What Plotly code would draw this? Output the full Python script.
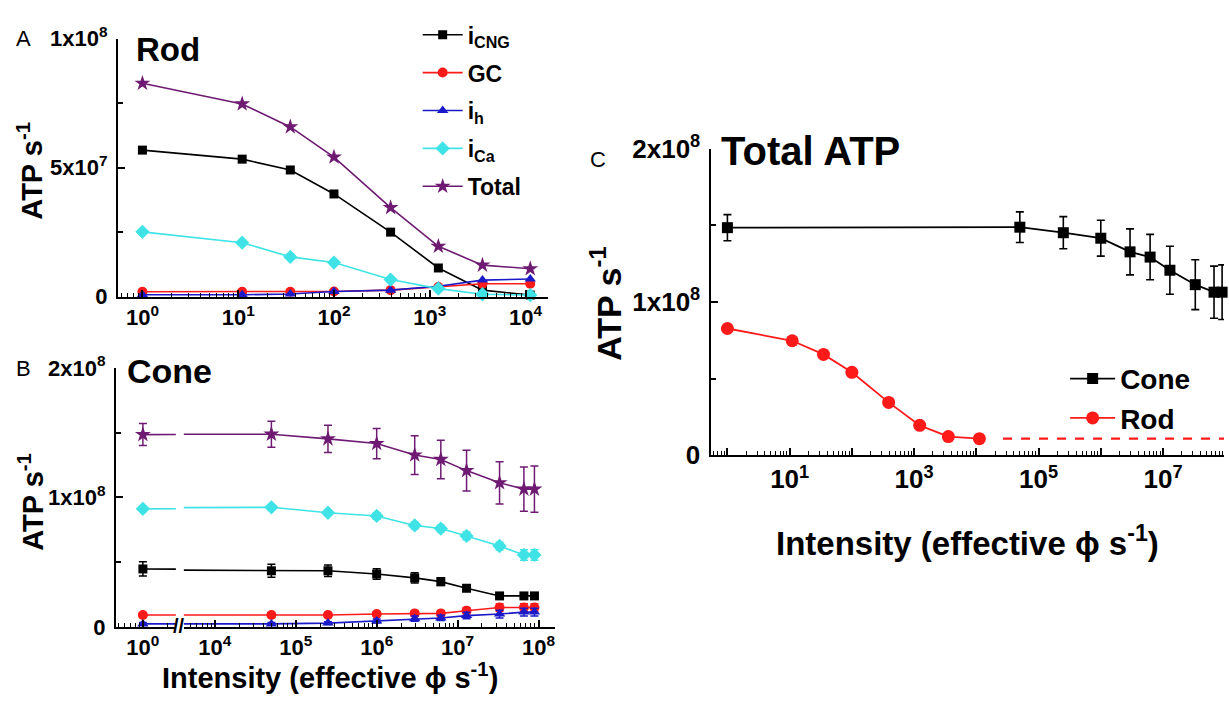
import plotly.graph_objects as go

W, H = 1229, 719
FONT = "Liberation Sans"

# ---------------- data ----------------
# Rod photoreceptor: ATP consumption (ATP s^-1) vs intensity (effective photons s^-1)
rod_intensity = [1, 11, 35, 100, 390, 1230, 3550, 11200]
rod_icng = [5.68e7, 5.33e7, 4.91e7, 3.98e7, 2.50e7, 1.11e7, 2.5e6, 6e5]
rod_gc = [1.9e6, 1.9e6, 1.9e6, 2.0e6, 2.5e6, 3.7e6, 5.0e6, 5.0e6]
rod_ih = [7e5, 7e5, 1.0e6, 2.0e6, 2.5e6, 4.0e6, 6.4e6, 6.8e6]
rod_ica = [2.51e7, 2.09e7, 1.54e7, 1.32e7, 6.6e6, 3.1e6, 9e5, 6e5]
rod_total = [8.27e7, 7.47e7, 6.58e7, 5.41e7, 3.45e7, 1.95e7, 1.22e7, 1.08e7]

# Cone photoreceptor
cone_intensity = [1, 5.0e4, 2.5e5, 1.0e6, 2.95e6, 6.2e6, 1.29e7, 3.3e7, 6.6e7, 8.9e7]
cone_icng = [4.48e7, 4.34e7, 4.34e7, 4.09e7, 3.79e7, 3.50e7, 2.99e7, 2.40e7, 2.40e7, 2.40e7]
cone_icng_err = [5.5e6, 5.0e6, 4.5e6, 4.0e6, 4.0e6, 3.0e6, 2.0e6, 1.5e6, 1.5e6, 1.5e6]
cone_gc = [9.3e6, 9.3e6, 9.3e6, 1.0e7, 1.05e7, 1.05e7, 1.25e7, 1.5e7, 1.5e7, 1.5e7]
cone_gc_err = [1.5e6, 1.5e6, 1.5e6, 1.5e6, 2.0e6, 2.0e6, 2.5e6, 3.0e6, 3.0e6, 3.0e6]
cone_ih = [2.4e6, 2.4e6, 3.0e6, 4.6e6, 6.4e6, 7.0e6, 8.8e6, 1.0e7, 1.15e7, 1.15e7]
cone_ih_err = [1.0e6, 1.0e6, 1.0e6, 1.5e6, 2.0e6, 2.0e6, 2.5e6, 3.0e6, 3.0e6, 3.0e6]
cone_ica = [9.12e7, 9.24e7, 8.82e7, 8.57e7, 7.84e7, 7.60e7, 7.03e7, 6.25e7, 5.56e7, 5.56e7]
cone_ica_err = [2.0e6, 2.0e6, 2.0e6, 2.5e6, 2.5e6, 2.5e6, 3.0e6, 3.0e6, 4.0e6, 4.0e6]
cone_total = [1.485e8, 1.488e8, 1.452e8, 1.416e8, 1.327e8, 1.293e8, 1.207e8, 1.113e8, 1.064e8, 1.064e8]
cone_total_err = [8.5e6, 1.0e7, 1.05e7, 1.17e7, 1.5e7, 1.48e7, 1.57e7, 1.63e7, 1.7e7, 1.78e7]

series_names = ["i<sub>CNG</sub>", "GC", "i<sub>h</sub>", "i<sub>Ca</sub>", "Total"]
series_colors = ["#000000", "#ff1a1a", "#1a1ac8", "#3fe3e6", "#6e1a72"]
series_symbols = ["square", "circle", "triangle-up", "diamond", "star"]
series_sizes = [9, 10, 10, 11, 12]

rod_series = [rod_icng, rod_gc, rod_ih, rod_ica, rod_total]
cone_series = [cone_icng, cone_gc, cone_ih, cone_ica, cone_total]
cone_errors = [cone_icng_err, cone_gc_err, cone_ih_err, cone_ica_err, cone_total_err]


def px_x(p):
    return p / W


def px_y(p):
    return 1 - p / H


def sup_label(n):
    return f"10<sup>{n}</sup>"


def minor_vals(lo, hi):
    return [k * 10 ** n for n in range(lo, hi + 1) for k in range(2, 10)]


fig = go.Figure()

# ---------------- panel A: rod ----------------
for name, color, sym, size, ys in zip(series_names, series_colors, series_symbols,
                                      series_sizes, rod_series):
    fig.add_trace(go.Scatter(
        x=rod_intensity, y=ys, name=name, mode="lines+markers",
        line=dict(color=color, width=1.6),
        marker=dict(symbol=sym, size=size, color=color),
        cliponaxis=False, xaxis="x", yaxis="y", legend="legend", legendgroup=name,
    ))

# ---------------- panel B: cone (broken intensity axis) ----------------
for name, color, sym, size, ys, err in zip(series_names, series_colors, series_symbols,
                                           series_sizes, cone_series, cone_errors):
    for xa in ("x2", "x3"):
        fig.add_trace(go.Scatter(
            x=cone_intensity, y=ys, mode="lines", showlegend=False,
            line=dict(color=color, width=1.6), xaxis=xa, yaxis="y2",
        ))
    # points on the left segment (below the break) and right segment
    fig.add_trace(go.Scatter(
        x=cone_intensity[:1], y=ys[:1], mode="markers", showlegend=False,
        marker=dict(symbol=sym, size=size, color=color),
        error_y=dict(type="data", array=err[:1], color=color, thickness=1.5, width=4),
        cliponaxis=False, xaxis="x2", yaxis="y2",
    ))
    fig.add_trace(go.Scatter(
        x=cone_intensity[1:], y=ys[1:], mode="markers", showlegend=False,
        marker=dict(symbol=sym, size=size, color=color),
        error_y=dict(type="data", array=err[1:], color=color, thickness=1.5, width=4),
        cliponaxis=False, xaxis="x3", yaxis="y2",
    ))

# ---------------- panel C: total ATP ----------------
fig.add_trace(go.Scatter(
    x=cone_intensity, y=cone_total, name="Cone", mode="lines+markers",
    line=dict(color="#000000", width=1.8),
    marker=dict(symbol="square", size=11, color="#000000"),
    error_y=dict(type="data", array=cone_total_err, color="#000000", thickness=1.6, width=4),
    cliponaxis=False, xaxis="x4", yaxis="y3", legend="legend2",
))
fig.add_trace(go.Scatter(
    x=rod_intensity, y=rod_total, name="Rod", mode="lines+markers",
    line=dict(color="#ff1a1a", width=1.8),
    marker=dict(symbol="circle", size=13, color="#ff1a1a"),
    cliponaxis=False, xaxis="x4", yaxis="y3", legend="legend2",
))
# rod consumption held at its saturated level over the cone range
fig.add_trace(go.Scatter(
    x=[rod_intensity[-1] * 2.4, cone_intensity[-1] * 2.0],
    y=[rod_total[-1], rod_total[-1]], mode="lines", showlegend=False,
    line=dict(color="#ff1a1a", width=2.2, dash="dash"),
    xaxis="x4", yaxis="y3",
))

# ---------------- axes ----------------
def x_axis(size, **kw):
    return dict(type="log", showline=True, linewidth=2, linecolor="#000000",
                ticks="inside", ticklen=7, tickwidth=2, tickcolor="#000000",
                showgrid=False, zeroline=False, tickmode="array",
                tickfont=dict(family=FONT, size=size, color="#000000", weight="bold"),
                **kw)


def y_axis(size, **kw):
    return dict(showline=True, linewidth=2, linecolor="#000000",
                ticks="inside", ticklen=7, tickwidth=2, tickcolor="#000000",
                showgrid=False, zeroline=False, tickmode="array", ticklabelstandoff=4,
                tickfont=dict(family=FONT, size=size, color="#000000", weight="bold"),
                **kw)


def minor_x(lo, hi):
    return dict(ticks="inside", ticklen=4, tickwidth=1.2, tickcolor="#000000",
                tickmode="array", tickvals=minor_vals(lo, hi), showgrid=False)


def minor_y(vals):
    return dict(ticks="inside", ticklen=5, tickwidth=1.5, tickcolor="#000000",
                tickmode="array", tickvals=vals, showgrid=False)


y_labels_rod = [0, 5e7, 1e8]
y_text_rod = ["0", "5x10<sup>7</sup>", "1x10<sup>8</sup>"]
y_labels_cone = [0, 1e8, 2e8]
y_text_cone = ["0", "1x10<sup>8</sup>", "2x10<sup>8</sup>"]

fig.update_layout(
    xaxis=x_axis(22, domain=[px_x(118), px_x(548)], range=[-0.256, 4.23], anchor="y",
                 tickvals=[10 ** n for n in range(0, 5)],
                 ticktext=[sup_label(n) for n in range(0, 5)], minor=minor_x(-1, 4)),
    yaxis=y_axis(22, domain=[px_y(292), px_y(21.7)], range=[0, 1e8], anchor="x",
                 tickvals=y_labels_rod, ticktext=y_text_rod, minor=minor_y([2.5e7, 7.5e7])),
    xaxis2=x_axis(22, domain=[px_x(116), px_x(176)], range=[-0.333, 0.407], anchor="y2",
                  tickvals=[1], ticktext=[sup_label(0)], minor=minor_x(-1, 0)),
    xaxis3=x_axis(22, domain=[px_x(184), px_x(555)], range=[3.617, 8.198], anchor="y2",
                  tickvals=[10 ** n for n in range(4, 9)],
                  ticktext=[sup_label(n) for n in range(4, 9)], minor=minor_x(3, 8)),
    yaxis2=y_axis(22, domain=[px_y(638.3), px_y(366.7)], range=[0, 2e8], anchor="x2",
                  tickvals=y_labels_cone, ticktext=y_text_cone, minor=minor_y([5e7, 1.5e8])),
    xaxis4=x_axis(26, domain=[px_x(712), px_x(1225)], range=[-0.257, 7.98], anchor="y3",
                  tickvals=[10 ** n for n in range(0, 9)],
                  ticktext=[sup_label(n) if n % 2 == 1 else "" for n in range(0, 9)],
                  minor=minor_x(-1, 8)),
    yaxis3=y_axis(26, domain=[px_y(458.3), px_y(137)], range=[0, 2e8], anchor="x4",
                  tickvals=y_labels_cone, ticktext=y_text_cone, minor=minor_y([5e7, 1.5e8])),
)

fig.update_layout(
    width=W, height=H,
    margin=dict(l=0, r=0, t=0, b=0),
    paper_bgcolor="#ffffff", plot_bgcolor="#ffffff",
    font=dict(family=FONT, color="#000000"),
    legend=dict(x=px_x(418), y=px_y(-5), xanchor="left", yanchor="top",
                font=dict(family=FONT, size=23, color="#000000", weight="bold"),
                bgcolor="rgba(0,0,0,0)", itemwidth=40, tracegroupgap=5),
    legend2=dict(x=px_x(1066), y=px_y(352), xanchor="left", yanchor="top",
                 font=dict(family=FONT, size=28, color="#000000", weight="bold"),
                 bgcolor="rgba(0,0,0,0)", itemwidth=45),
)

# ---------------- text ----------------
letter_font = dict(family=FONT, size=22, color="#000000")


def bold(size):
    return dict(family=FONT, size=size, color="#000000", weight="bold")


annotations = [
    dict(text="A", x=px_x(14), y=px_y(21), xanchor="left", yanchor="middle", font=letter_font),
    dict(text="B", x=px_x(14), y=px_y(367), xanchor="left", yanchor="middle", font=letter_font),
    dict(text="C", x=px_x(588), y=px_y(148), xanchor="left", yanchor="middle", font=letter_font),
    dict(text="Rod", x=px_x(134), y=px_y(33), xanchor="left", yanchor="middle", font=bold(33)),
    dict(text="Cone", x=px_x(125), y=px_y(370), xanchor="left", yanchor="middle", font=bold(34)),
    dict(text="Total ATP", x=px_x(720), y=px_y(139), xanchor="left", yanchor="middle",
         font=bold(40)),
    dict(text="ATP s<sup>-1</sup>", x=px_x(30), y=px_y(160), textangle=-90,
         xanchor="center", yanchor="middle", font=bold(29)),
    dict(text="ATP s<sup>-1</sup>", x=px_x(31), y=px_y(507), textangle=-90,
         xanchor="center", yanchor="middle", font=bold(29)),
    dict(text="ATP s<sup>-1</sup>", x=px_x(606), y=px_y(300), textangle=-90,
         xanchor="center", yanchor="middle", font=bold(34)),
    dict(text="Intensity (effective \u03d5 s<sup>-1</sup>)", x=px_x(330), y=px_y(690),
         xanchor="center", yanchor="middle", font=bold(29)),
    dict(text="Intensity (effective \u03d5 s<sup>-1</sup>)", x=px_x(968), y=px_y(548),
         xanchor="center", yanchor="middle", font=bold(33)),
    # break marks on the cone intensity axis
    dict(text="//", x=px_x(179), y=px_y(637), xanchor="center", yanchor="middle",
         font=bold(20)),
]
for a in annotations:
    a.update(xref="paper", yref="paper", showarrow=False)
fig.update_layout(annotations=annotations)

fig.write_html("out.html")
